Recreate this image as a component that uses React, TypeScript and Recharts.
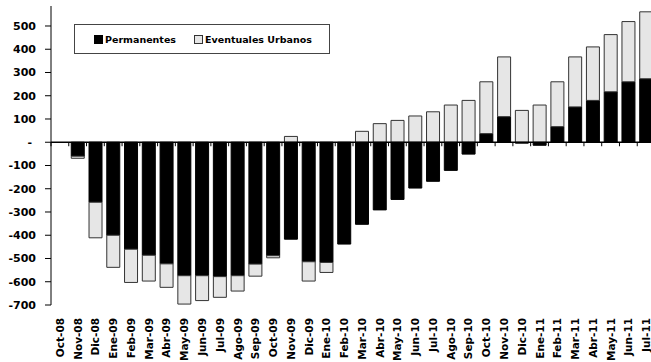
import React from 'react'
import { BarChart, Bar, XAxis, YAxis, ReferenceLine, Legend } from 'recharts'

const months = [
  'Oct-08', 'Nov-08', 'Dic-08', 'Ene-09', 'Feb-09', 'Mar-09', 'Abr-09', 'May-09', 'Jun-09', 'Jul-09',
  'Ago-09', 'Sep-09', 'Oct-09', 'Nov-09', 'Dic-09', 'Ene-10', 'Feb-10', 'Mar-10', 'Abr-10', 'May-10',
  'Jun-10', 'Jul-10', 'Ago-10', 'Sep-10', 'Oct-10', 'Nov-10', 'Dic-10', 'Ene-11', 'Feb-11', 'Mar-11',
  'Abr-11', 'May-11', 'Jun-11', 'Jul-11',
]

const permanentes = [
  0, -60, -258, -400, -460, -486, -523, -574, -574, -578,
  -574, -524, -488, -417, -514, -517, -438, -353, -291, -246,
  -197, -168, -121, -51, 37, 110, -4, -13, 67, 152,
  180, 217, 260, 273,
]

const eventuales = [
  0, -9, -153, -138, -143, -111, -101, -122, -107, -89,
  -66, -52, -9, 25, -83, -43, 0, 47, 80, 94,
  113, 131, 160, 180, 223, 257, 137, 160, 193, 215,
  230, 246, 259, 288,
]

const seriesNames = ['Permanentes', 'Eventuales Urbanos']

const yTicks = [-700, -600, -500, -400, -300, -200, -100, 0, 100, 200, 300, 400, 500]

const data = months.map((m, i) => ({ month: m, permanentes: permanentes[i], eventuales: eventuales[i] }))

const FONT = '"DejaVu Sans", sans-serif'

function MonthTick(props: any) {
  const { x, y, payload } = props
  const bx = x + 4
  return (
    <text
      x={bx}
      y={y}
      transform={`rotate(-90, ${bx}, ${y})`}
      textAnchor="end"
      fontFamily={FONT}
      fontWeight="bold"
      fontSize={10.5}
      fill="#000"
    >
      {payload.value}
    </text>
  )
}

// zero line with little ticks between the categories, like excel does
function ZeroLine(props: any) {
  const { x1, y1, x2, y2 } = props
  const step = (x2 - x1) / months.length
  return (
    <g>
      {months.map((_, i) => (
        <line key={i} x1={x1 + step * i} x2={x1 + step * i} y1={y1} y2={y1 + 4} stroke="#000" strokeWidth={1} />
      ))}
      <line x1={x1} y1={y1} x2={x2} y2={y2} stroke="#000" strokeWidth={1.6} />
    </g>
  )
}

function LegendBox(props: any) {
  const items = [...(props.payload || [])].sort(
    (a: any, b: any) => seriesNames.indexOf(a.value) - seriesNames.indexOf(b.value),
  )
  return (
    <div
      style={{
        display: 'flex',
        alignItems: 'center',
        boxSizing: 'border-box',
        width: 256,
        height: 30,
        border: '1px solid #444',
        background: '#fff',
        paddingLeft: 19,
        fontFamily: FONT,
        fontWeight: 'bold',
        fontSize: 9.5,
        color: '#000',
        whiteSpace: 'nowrap',
      }}
    >
      {items.map((it: any, i: number) => (
        <div key={i} style={{ display: 'flex', alignItems: 'center', marginRight: 18, flexShrink: 0 }}>
          <span
            style={{
              display: 'inline-block',
              boxSizing: 'border-box',
              width: 9,
              height: 9,
              background: it.color,
              border: i === 0 ? '1px solid #000' : '1px solid #333',
              marginRight: 2,
            }}
          />
          <span>{it.value}</span>
        </div>
      ))}
    </div>
  )
}

export default function App() {
  return (
    <div style={{ position: 'absolute', left: 0, top: 0, width: 651, height: 362, overflow: 'hidden', background: '#fff' }}>
      <BarChart
        width={655}
        height={362}
        data={data}
        stackOffset="sign"
        barCategoryGap="14%"
        margin={{ top: 6, right: 0, bottom: 0, left: 0 }}
      >
        <XAxis
          dataKey="month"
          height={57}
          interval={0}
          axisLine={false}
          tickLine={false}
          tickSize={0}
          tickMargin={13}
          tick={MonthTick}
        />
        <YAxis
          type="number"
          domain={[-700, 586]}
          ticks={yTicks}
          allowDataOverflow
          interval={0}
          width={51}
          tickSize={6}
          tickMargin={9}
          axisLine={{ stroke: '#000' }}
          tickLine={{ stroke: '#000' }}
          tick={{ fill: '#000', fontFamily: FONT, fontWeight: 'bold', fontSize: 11 }}
          tickFormatter={(v: number) => (v === 0 ? '-\u00A0' : String(v))}
        />
        <Legend
          layout="horizontal"
          verticalAlign="middle"
          align="center"
          wrapperStyle={{ left: 74, top: 24, width: 256, height: 30 }}
          content={LegendBox}
        />
        <Bar dataKey="permanentes" name={seriesNames[0]} stackId="a" fill="#000" stroke="#000" strokeWidth={1} isAnimationActive={false} />
        <Bar dataKey="eventuales" name={seriesNames[1]} stackId="a" fill="#e6e6e6" stroke="#333" strokeWidth={1} isAnimationActive={false} />
        <ReferenceLine y={0} shape={ZeroLine} />
      </BarChart>
    </div>
  )
}
